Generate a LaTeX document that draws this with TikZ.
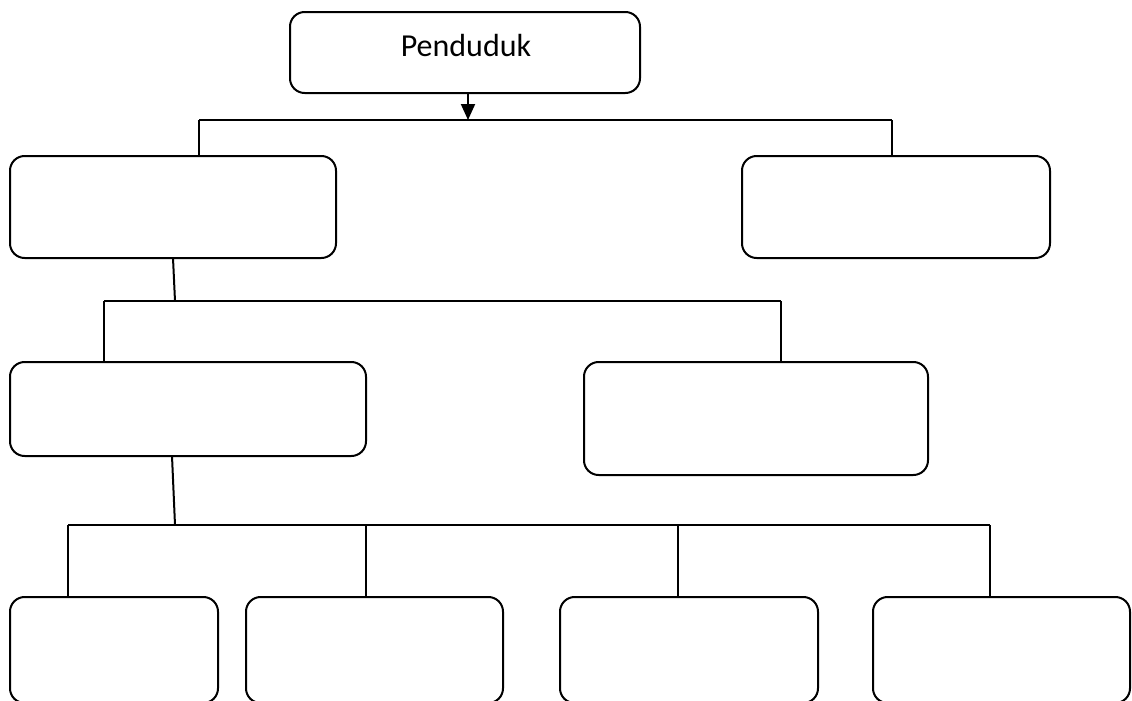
\documentclass[tikz,border=0pt]{standalone}
\usepackage{fontspec}
\setmainfont{Carlito}
\usetikzlibrary{fit,arrows.meta}
\begin{document}
\begin{tikzpicture}[x=0.75pt,y=-0.75pt,
  box/.style={draw,line width=1.5pt,rounded corners=11pt,inner sep=0pt,outer sep=0pt},
  link/.style={line width=1.5pt},
  label/.style={font=\fontsize{24}{29}\selectfont,inner sep=0pt}]
\clip (0,0) rectangle (1132,700);
\useasboundingbox (0,0) rectangle (1132,700);
% top box
\node[box,fit={(290,12) (640,93)}] (pend) {};
\node[label] (pendtxt) at (466,46) {Penduduk};
% first level
\node[box,fit={(10,156) (336,258)}] (l1) {};
\node[box,fit={(742,156) (1050,258)}] (r1) {};
% second level
\node[box,fit={(10,362) (366,456)}] (l2) {};
\node[box,fit={(584,362) (928,475)}] (r2) {};
% third level
\node[box,fit={(10,597) (218,703)}] (b1) {};
\node[box,fit={(246,597) (503,703)}] (b2) {};
\node[box,fit={(560,597) (818,703)}] (b3) {};
\node[box,fit={(873,597) (1130,703)}] (b4) {};
% junction points
\coordinate (a0) at (468,120);
\coordinate (a1) at (199,120);
\coordinate (a2) at (892,120);
\coordinate (b0) at (175,301);
\coordinate (b1j) at (104,301);
\coordinate (b2j) at (781,301);
\coordinate (c0s) at (172,456);
\coordinate (c0) at (175,525);
\coordinate (c1) at (68,525);
\coordinate (c2) at (366,525);
\coordinate (c3) at (678,525);
\coordinate (c4) at (990,525);
% connectors
\draw[link,-{Triangle[length=12pt,width=10.5pt]}] (pend.south -| a0) -- (a0);
\draw[link] (a1) -- (a2);
\draw[link] (a1) -- (a1 |- r1.north);
\draw[link] (a2) -- (a2 |- r1.north);
\draw[link] (l1.south) -- (b0);
\draw[link] (b1j) -- (b2j);
\draw[link] (b1j) -- (b1j |- l2.north);
\draw[link] (b2j) -- (b2j |- r2.north);
\draw[link] (c0s) -- (c0);
\draw[link] (c1) -- (c4);
\draw[link] (c1) -- (c1 |- b1.north);
\draw[link] (c2) -- (c2 |- b2.north);
\draw[link] (c3) -- (c3 |- b3.north);
\draw[link] (c4) -- (c4 |- b4.north);
\end{tikzpicture}
\end{document}
